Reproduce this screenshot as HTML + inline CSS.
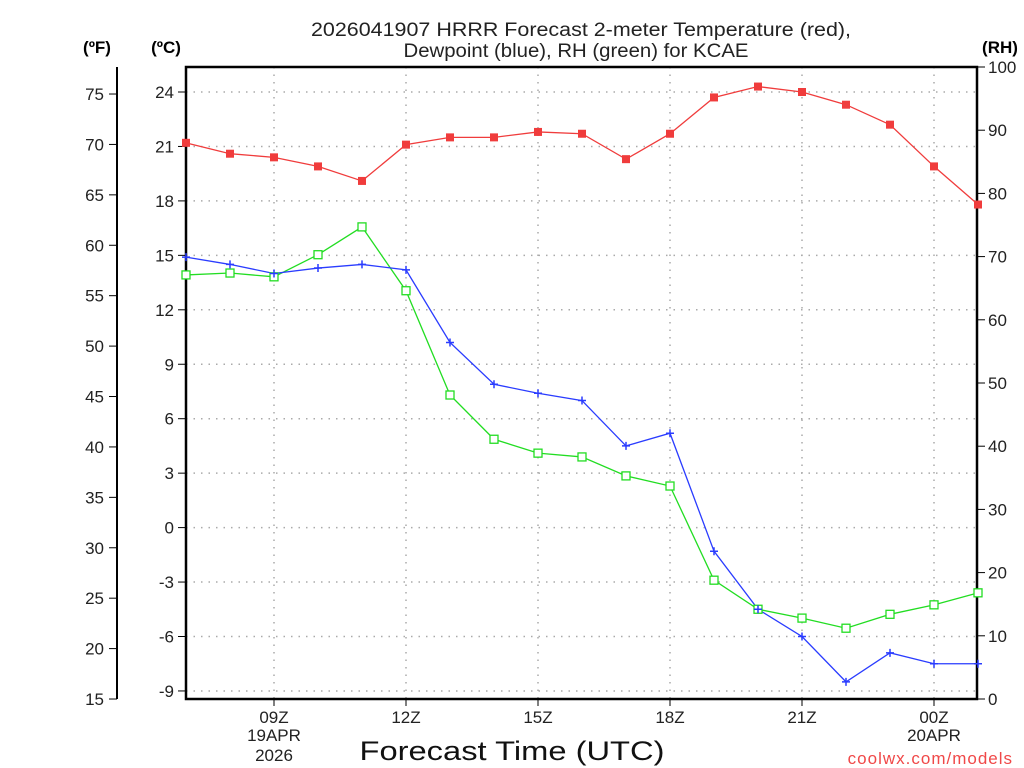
<!DOCTYPE html>
<html><head><meta charset="utf-8"><style>
html,body{margin:0;padding:0;background:#fff;}
svg{display:block;font-family:"Liberation Sans",sans-serif;}
</style></head><body>
<svg id="chart" width="1024" height="768" viewBox="0 0 1024 768" xmlns="http://www.w3.org/2000/svg">
<text x="581" y="36" font-size="19" text-anchor="middle" fill="#222" textLength="540" lengthAdjust="spacingAndGlyphs">2026041907 HRRR Forecast 2-meter Temperature (red),</text>
<text x="576" y="57" font-size="19" text-anchor="middle" fill="#222" textLength="345" lengthAdjust="spacingAndGlyphs">Dewpoint (blue), RH (green) for KCAE</text>
<text x="97" y="53" font-size="17" font-weight="bold" text-anchor="middle">(ºF)</text>
<text x="166" y="53" font-size="17" font-weight="bold" text-anchor="middle">(ºC)</text>
<text x="1000" y="53" font-size="17" font-weight="bold" text-anchor="middle">(RH)</text>
<text x="512" y="760" font-size="27" text-anchor="middle" fill="#111" textLength="305" lengthAdjust="spacingAndGlyphs">Forecast Time (UTC)</text>
<text x="1013" y="764" font-size="17" text-anchor="end" fill="#f04848" letter-spacing="1">coolwx.com/models</text>
<g id="grid"></g><g id="axes"></g><g id="series"></g>
</svg>
<script>
const hours=[7,8,9,10,11,12,13,14,15,16,17,18,19,20,21,22,23,24,25];
const tempC=[21.2,20.6,20.4,19.9,19.1,21.1,21.5,21.5,21.8,21.7,20.3,21.7,23.7,24.3,24.0,23.3,22.2,19.9,17.8];
const dewC=[14.9,14.5,14.0,14.3,14.5,14.2,10.2,7.9,7.4,7.0,4.5,5.2,-1.3,-4.5,-6.0,-8.5,-6.9,-7.5,-7.5];
const rhPct=[67.1,67.4,66.8,70.3,74.7,64.6,48.1,41.1,38.9,38.3,35.3,33.7,18.8,14.2,12.8,11.2,13.4,14.9,16.8];
const cTicks=[24,21,18,15,12,9,6,3,0,-3,-6,-9];
const fTicks=[75,70,65,60,55,50,45,40,35,30,25,20,15];
const rhTicks=[100,90,80,70,60,50,40,30,20,10,0];
const xTickHours=[9,12,15,18,21,24];
const xTickLabels=["09Z","12Z","15Z","18Z","21Z","00Z"];
const L=186,R=977,T=67,B=699;
const X=h=>L+(h-7)*44;
const YC=c=>527.6-c*18.15;
const YF=f=>YC((f-32)*5/9);
const YR=r=>B-r*6.32;
const NS="http://www.w3.org/2000/svg";
function mk(tag,attrs,parent,text){const e=document.createElementNS(NS,tag);for(const k in attrs)e.setAttribute(k,attrs[k]);if(text!==undefined)e.textContent=text;parent.appendChild(e);return e;}
const grid=document.getElementById('grid'),axes=document.getElementById('axes'),ser=document.getElementById('series');
cTicks.forEach(c=>{const y=YC(c);
 const g=mk('line',{x1:L,x2:R,y1:y,y2:y,stroke:'#aaa','stroke-width':1.5,'stroke-dasharray':'1.5,6'},grid);
 
 
 mk('line',{x1:L-8,x2:L,y1:y,y2:y,stroke:'#000','stroke-width':1},axes);
 const t=mk('text',{x:L-12,y:y+6,'font-size':17,'text-anchor':'end',fill:'#222'},axes,String(c));
 
 
});
xTickHours.forEach((h,i)=>{const x=X(h);
 const g=mk('line',{x1:x,x2:x,y1:T,y2:B,stroke:'#aaa','stroke-width':1.5,'stroke-dasharray':'1.5,6'},grid);
 
 
 mk('line',{x1:x,x2:x,y1:B,y2:B+7,stroke:'#000','stroke-width':1},axes);
 const t=mk('text',{x:x,y:B+24,'font-size':17,'text-anchor':'middle',fill:'#222'},axes,xTickLabels[i]);
 
 
});
[[X(9),"19APR",741],[X(9),"2026",761],[X(24),"20APR",741]].forEach(d=>{
 const t=mk('text',{x:d[0],y:d[2],'font-size':17,'text-anchor':'middle',fill:'#222'},axes,d[1]);
 
 
});
mk('line',{x1:117,x2:117,y1:67,y2:699,stroke:'#000','stroke-width':2},axes);
fTicks.forEach(f=>{const y=YF(f);
 mk('line',{x1:109,x2:117,y1:y,y2:y,stroke:'#000','stroke-width':1},axes);
 const t=mk('text',{x:104,y:y+6,'font-size':17,'text-anchor':'end',fill:'#222'},axes,String(f));
 
 
});
rhTicks.forEach(r=>{const y=YR(r);
 mk('line',{x1:R,x2:R+8,y1:y,y2:y,stroke:'#000','stroke-width':1},axes);
 const t=mk('text',{x:R+11,y:y+6,'font-size':17,fill:'#222'},axes,String(r));
 
 
});
const fr=mk('rect',{x:L,y:T,width:R-L,height:B-T,fill:'none',stroke:'#000','stroke-width':2.5},axes);


function line(vals,yf,color,name){
 const p=mk('polyline',{points:vals.map((v,i)=>X(hours[i])+','+yf(v)).join(' '),fill:'none',stroke:color,'stroke-width':1.3},ser);
 
 
}
line(rhPct,YR,'#22dd22','rh-line');
line(dewC,YC,'#2a3cff','dewpoint-line');
line(tempC,YC,'#f03c3c','temperature-line');
rhPct.forEach((v,i)=>{const m=mk('rect',{x:X(hours[i])-4,y:YR(v)-4,width:8,height:8,fill:'#fff',stroke:'#22dd22','stroke-width':1.3},ser);
 
 });
dewC.forEach((v,i)=>{const x=X(hours[i]),y=YC(v);const m=mk('path',{d:`M${x-4} ${y}H${x+4}M${x} ${y-4}V${y+4}`,stroke:'#2a3cff','stroke-width':1.5},ser);
 
 });
tempC.forEach((v,i)=>{const m=mk('rect',{x:X(hours[i])-4,y:YC(v)-4,width:8,height:8,fill:'#f03c3c'},ser);
 
 });
</script>
</body></html>
